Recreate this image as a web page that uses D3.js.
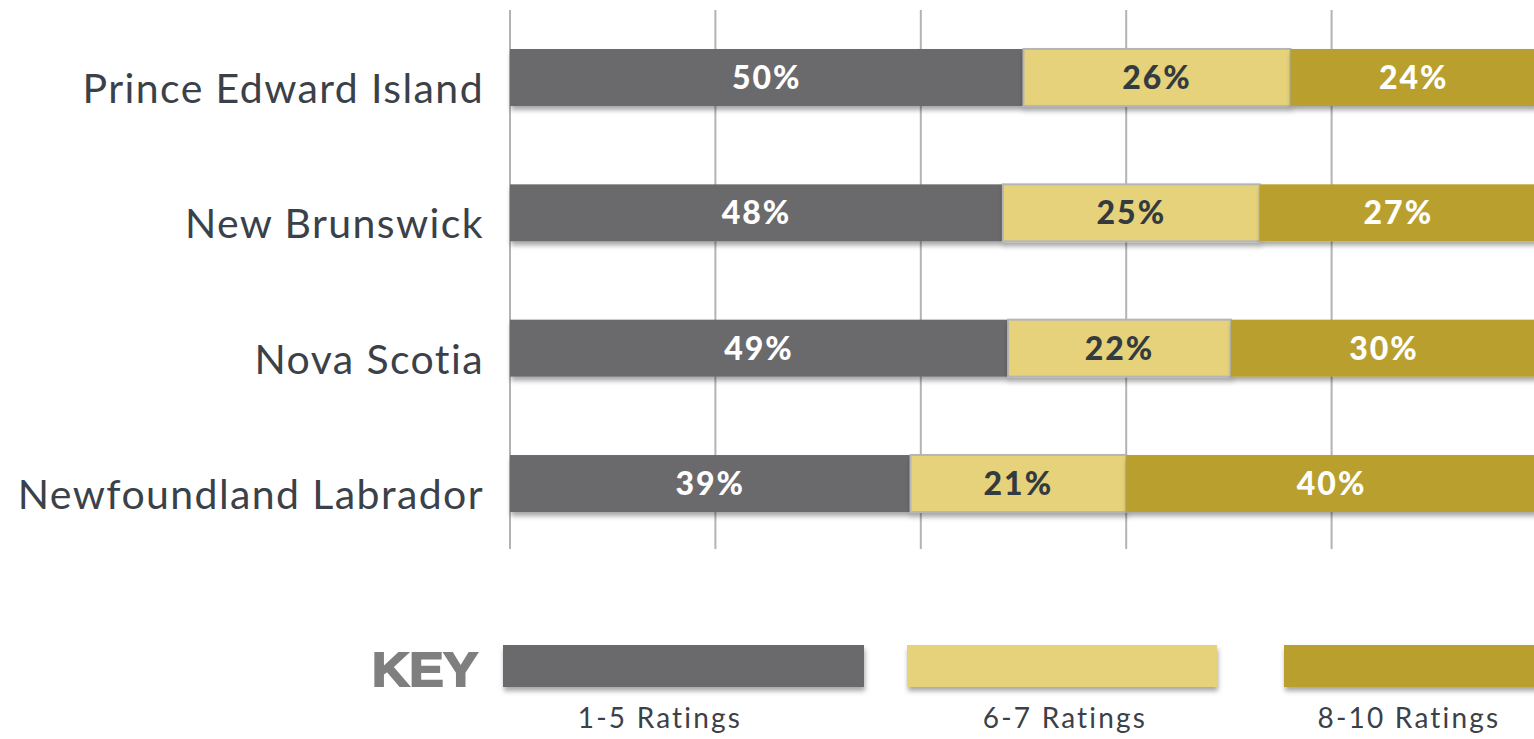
<!DOCTYPE html>
<html>
<head>
<meta charset="utf-8">
<script src="https://cdn.jsdelivr.net/npm/d3@7"></script>
<style>
  html, body { margin: 0; padding: 0; background: #ffffff; overflow: hidden; }
  .cat { font-family: "Century Gothic", Lato, sans-serif; font-size: 41px; letter-spacing: 1.4px; fill: #3b4149; }
  .val { font-family: "Century Gothic", Lato, sans-serif; font-weight: 900; font-size: 32px; letter-spacing: 2px; }
  .key { font-family: "Arial Black", "Liberation Sans", sans-serif; font-weight: 900; font-size: 49px; fill: #7f7f7f; stroke: #7f7f7f; stroke-width: 2px; }
  .leg { font-family: "Century Gothic", Lato, sans-serif; font-size: 28px; letter-spacing: 2.2px; fill: #3b4149; }
</style>
</head>
<body>
<svg id="svg1" width="1534" height="739"></svg>
<script>
var provinces = ["Prince Edward Island", "New Brunswick", "Nova Scotia", "Newfoundland Labrador"];
var seriesNames = ["1-5 Ratings", "6-7 Ratings", "8-10 Ratings"];
var low = [50, 48, 48.5, 39];
var mid = [26, 25, 21.7, 21];
var high = [24, 27, 29.8, 40];
var ticks = [0, 20, 40, 60, 80, 100];
var colors = ["#6b6b6d", "#e5d27a", "#b9a02d"];
var textColors = ["#ffffff", "#333a40", "#ffffff"];

var params = {
  "plot": { "x0": 510, "x1": 1537, "top": 49, "bottom": 512 },
  "grid": { "top": 10, "bottom": 549 }
};

var svg = d3.select("#svg1");

// drop shadow under the bars
var defs = svg.append("defs");
var f = defs.append("filter").attr("id", "shadow")
  .attr("x", "-5%").attr("y", "-20%").attr("width", "110%").attr("height", "160%");
f.append("feDropShadow")
  .attr("dx", 1).attr("dy", 4).attr("stdDeviation", 2.5)
  .attr("flood-color", "#000").attr("flood-opacity", 0.35);

var scale = {
  "x": d3.scaleLinear().domain([0, 100]).range([params.plot.x0, params.plot.x1]),
  "y": d3.scaleBand().domain(provinces).range([params.plot.top, params.plot.bottom])
    .paddingInner(0.579).paddingOuter(0)
};

// gridlines
svg.append("g").selectAll("line")
  .data(ticks)
  .enter()
  .append("line")
  .attr("x1", function(d) { return scale.x(d); })
  .attr("x2", function(d) { return scale.x(d); })
  .attr("y1", params.grid.top)
  .attr("y2", params.grid.bottom)
  .attr("stroke", "#b3b3b3")
  .attr("stroke-width", 2);

// stacked data
var rows = provinces.map(function(p, i) {
  return { "province": p, "low": low[i], "mid": mid[i], "high": high[i] };
});
var stack = d3.stack().keys(["low", "mid", "high"])(rows);

var layers = svg.append("g").selectAll("g.layer")
  .data(stack)
  .enter()
  .append("g")
  .attr("class", "layer");

layers.selectAll("rect")
  .data(function(d) { return d.map(function(s) { s.index = d.index; return s; }); })
  .enter()
  .append("rect")
  .attr("x", function(d) { return scale.x(d[0]); })
  .attr("y", function(d) { return scale.y(d.data.province); })
  .attr("width", function(d) { return scale.x(d[1]) - scale.x(d[0]); })
  .attr("height", scale.y.bandwidth())
  .attr("fill", function(d) { return colors[d.index]; })
  .attr("stroke", function(d) { return d.index == 1 ? "#b5b5b5" : "none"; })
  .attr("stroke-width", 2)
  .attr("filter", "url(#shadow)");

// value labels (baseline sits a little below the bar middle)
layers.selectAll("text")
  .data(function(d) { return d; })
  .enter()
  .append("text")
  .attr("class", "val")
  .attr("x", function(d) { return (scale.x(d[0]) + scale.x(Math.min(d[1], 100))) / 2; })
  .attr("y", function(d) { return scale.y(d.data.province) + scale.y.bandwidth() / 2 + 11.5; })
  .attr("text-anchor", "middle")
  .attr("fill", function(d) { return textColors[d.index]; })
  .text(function(d) { return Math.round(d[1] - d[0]) + "%"; });

// category labels
svg.append("g").selectAll("text")
  .data(provinces)
  .enter()
  .append("text")
  .attr("class", "cat")
  .attr("x", 484)
  .attr("y", function(d) { return scale.y(d) + scale.y.bandwidth() / 2 + 25.5; })
  .attr("text-anchor", "end")
  .text(function(d) { return d; });

// legend
var legend = [
  { "x": 503, "w": 361, "cx": 660 },
  { "x": 907, "w": 310, "cx": 1065 },
  { "x": 1284, "w": 260, "cx": 1409 }
];

svg.append("text")
  .attr("class", "key")
  .attr("x", 372)
  .attr("y", 686)
  .attr("textLength", 106)
  .attr("lengthAdjust", "spacingAndGlyphs")
  .text("KEY");

var lg = svg.append("g").selectAll("g")
  .data(seriesNames)
  .enter()
  .append("g");

lg.append("rect")
  .attr("x", function(d, i) { return legend[i].x; })
  .attr("y", 645)
  .attr("width", function(d, i) { return legend[i].w; })
  .attr("height", 42)
  .attr("fill", function(d, i) { return colors[i]; })
  .attr("filter", "url(#shadow)");

lg.append("text")
  .attr("class", "leg")
  .attr("x", function(d, i) { return legend[i].cx; })
  .attr("y", 728)
  .attr("text-anchor", "middle")
  .text(function(d) { return d; });
</script>
</body>
</html>
